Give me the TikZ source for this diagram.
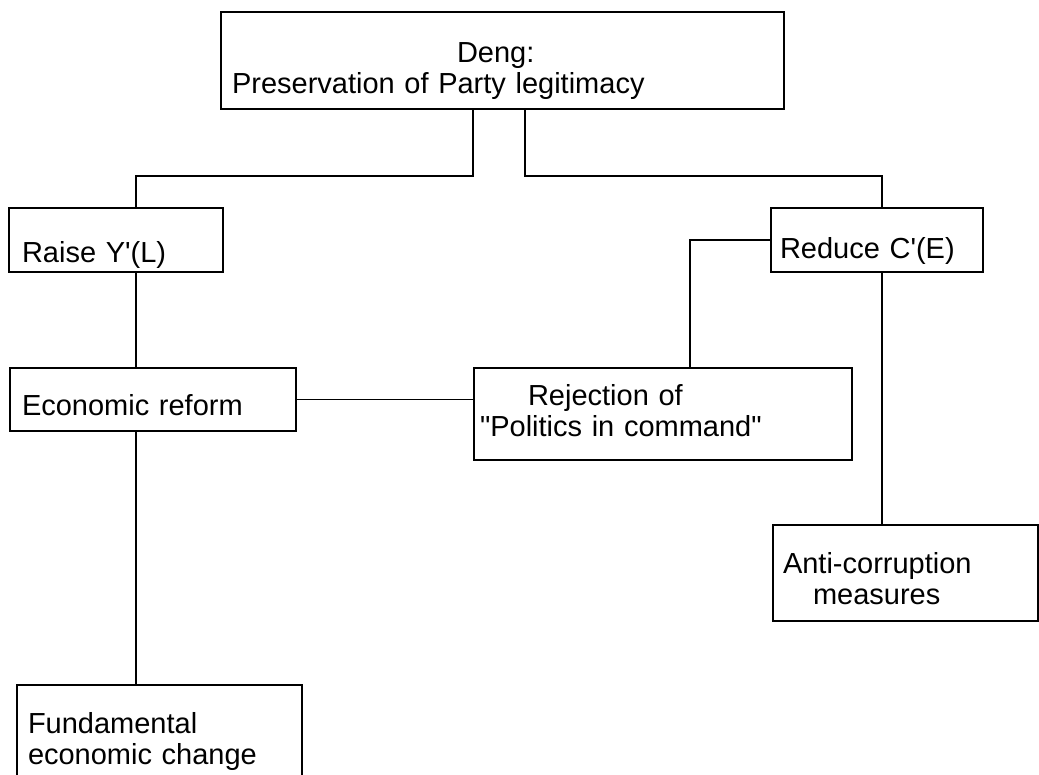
\documentclass[tikz,border=0pt]{standalone}
\usepackage{fontspec}
\newfontfamily\chartfont{Liberation Sans}
\usepackage{tikz}

\begin{document}
\begin{tikzpicture}
    [
    x=1pt, y=-1pt,
    box/.style={draw, anchor=north west, align=left, inner ysep=0pt, outer sep=0pt,
        font=\chartfont\fontsize{29}{31}\selectfont},
    link/.style={line width=1.4pt},
    every node/.append style={line width=1.4pt}
    ]
    \useasboundingbox (0,0) rectangle (1039,774);
    \clip (0,0) rectangle (1039,774);

    % Objetivo principal
    \node [box, text width=541pt, inner xsep=11pt, text height=50pt, text depth=47pt]
        (deng) at (221,12) {\hspace*{225pt}Deng:\\Preservation of Party legitimacy};
    % Segundo nivel
    \node [box, text width=188pt, inner xsep=13pt, text height=54pt, text depth=10pt]
        (raise) at (9,208) {Raise Y'(L)};
    \node [box, text width=194pt, inner xsep=9pt, text height=50pt, text depth=14pt]
        (reduce) at (771,208) {Reduce C'(E)};
    % Politicas
    \node [box, text width=262pt, inner xsep=12pt, text height=47pt, text depth=16pt]
        (econ) at (10,368) {Economic reform};
    \node [box, text width=366pt, inner xsep=6pt, text height=37pt, text depth=55pt]
        (rej) at (474,368) {\hspace*{48pt}Rejection of\\"Politics in command"};
    \node [box, text width=245pt, inner xsep=10pt, text height=48pt, text depth=48pt]
        (anti) at (773,525) {Anti-corruption\\\hspace*{30pt}measures};
    \node [box, text width=263pt, inner xsep=11pt, text height=48pt, text depth=80pt]
        (fund) at (17,685) {Fundamental\\economic change};

    % Conexiones
    \draw [link] ([xshift=-29.5pt]deng.south) -- ++(0,67) -| ([xshift=20pt]raise.north);
    \draw [link] ([xshift=22.5pt]deng.south) -- ++(0,67) -| ([xshift=5pt]reduce.north);
    \draw [link] ([xshift=20pt]raise.south) -- ([xshift=20pt]raise.south |- econ.north);
    \draw [link] ([xshift=20pt]raise.south |- econ.south) -- ([xshift=20pt]raise.south |- fund.north);
    \draw [link] (econ.east) -- (econ.east -| rej.west);
    \draw [link] (reduce.west) -| ([xshift=27pt]rej.north);
    \draw [link] ([xshift=5pt]reduce.south) -- ([xshift=5pt]reduce.south |- anti.north);
\end{tikzpicture}
\end{document}
